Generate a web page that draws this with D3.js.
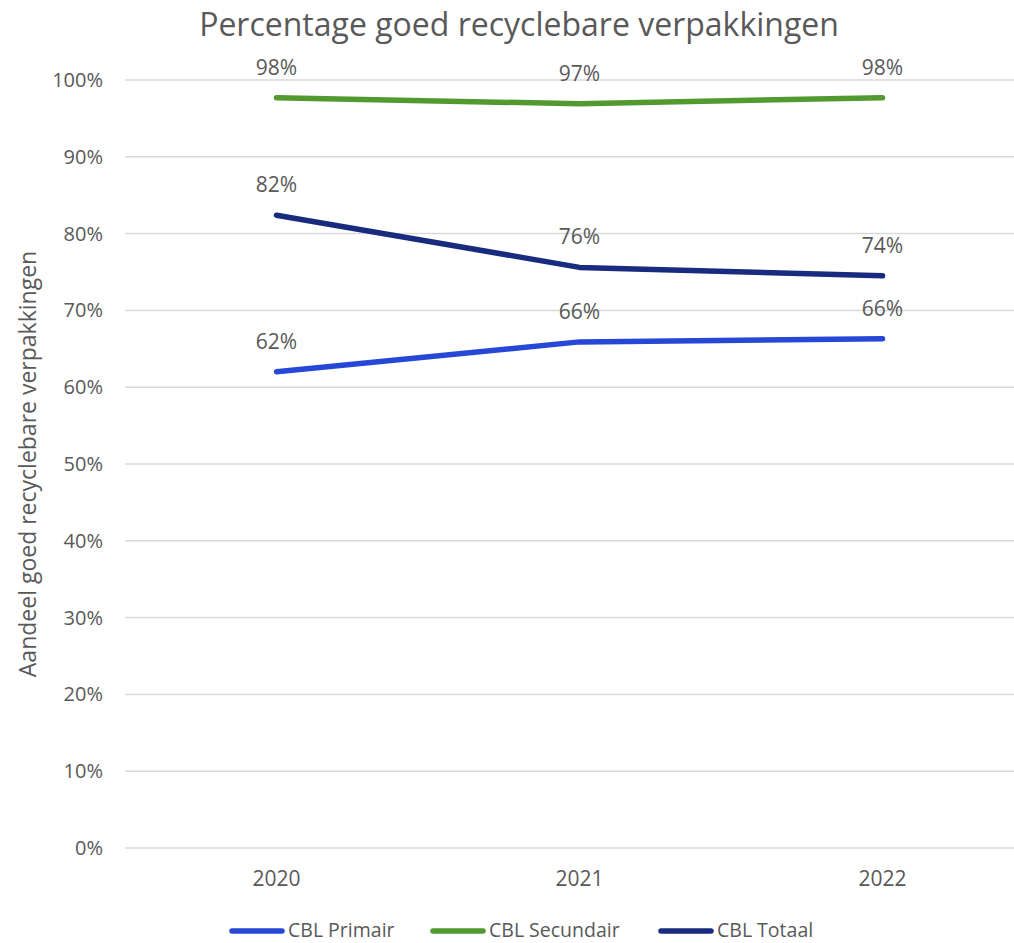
<!DOCTYPE html>
<html><head><meta charset="utf-8">
<script src="https://cdn.jsdelivr.net/npm/d3@7"></script>
<style>body{margin:0;background:#fff;} text{font-family:"Open Sans",sans-serif;fill:#595959;}</style>
</head><body><svg id="c" width="1014" height="943"></svg>
<script>
const categories = ["2020","2021","2022"];
const primair = [0.620, 0.659, 0.663];
const secundair = [0.977, 0.969, 0.977];
const totaal = [0.824, 0.756, 0.745];
const labelsPrimair = ["62%","66%","66%"];
const labelsSecundair = ["98%","97%","98%"];
const labelsTotaal = ["82%","76%","74%"];
const yTicks = [0,0.1,0.2,0.3,0.4,0.5,0.6,0.7,0.8,0.9,1.0];
const seriesNames = ["CBL Primair","CBL Secundair","CBL Totaal"];
const colors = ["#2747d6","#529a30","#182b7e"];

const svg = d3.select("#c");
const x = d3.scalePoint().domain(categories).range([125,1034]).padding(0.5);
const y = d3.scaleLinear().domain([0,1]).range([848,80]);

// grid
svg.append("g").selectAll("line").data(yTicks).join("line")
  .attr("x1",125).attr("x2",1014).attr("y1",d=>y(d)).attr("y2",d=>y(d))
  .attr("stroke","#d9d9d9").attr("stroke-width",1.5);
// y labels
svg.append("g").selectAll("text").data(yTicks).join("text")
  .attr("x",103).attr("y",d=>y(d)+7).attr("text-anchor","end")
  .attr("font-size",20).text(d=>d3.format(".0%")(d));
// x labels
svg.append("g").selectAll("text").data(categories).join("text")
  .attr("x",d=>x(d)).attr("y",886).attr("text-anchor","middle")
  .attr("font-size",21).text(d=>d);

const series = [
  {name:seriesNames[0], vals:primair, labels:labelsPrimair, color:colors[0]},
  {name:seriesNames[1], vals:secundair, labels:labelsSecundair, color:colors[1]},
  {name:seriesNames[2], vals:totaal, labels:labelsTotaal, color:colors[2]}
];
const line = d3.line().x((d,i)=>x(categories[i])).y(d=>y(d));
series.forEach(s=>{
  svg.append("path").datum(s.vals).attr("d",line).attr("fill","none")
    .attr("stroke",s.color).attr("stroke-width",5.5).attr("stroke-linecap","round").attr("stroke-linejoin","round");
  svg.append("g").selectAll("text").data(s.vals).join("text")
    .attr("x",(d,i)=>x(categories[i])).attr("y",d=>y(d)-23)
    .attr("text-anchor","middle").attr("font-size",21).text((d,i)=>s.labels[i]);
});

// title
svg.append("text").attr("x",519).attr("y",36).attr("text-anchor","middle")
  .attr("font-size",32).text("Percentage goed recyclebare verpakkingen");
// y axis title
svg.append("text").attr("transform","translate(36,464) rotate(-90)")
  .attr("text-anchor","middle").attr("font-size",23).text("Aandeel goed recyclebare verpakkingen");

// legend
const legX = [229,430,658];
const lg = svg.append("g");
series.forEach((s,i)=>{
  lg.append("line").attr("x1",legX[i]+3).attr("x2",legX[i]+53).attr("y1",931).attr("y2",931)
    .attr("stroke",s.color).attr("stroke-width",5.5).attr("stroke-linecap","round");
  lg.append("text").attr("x",legX[i]+59).attr("y",937).attr("font-size",19.5).text(s.name);
});
</script></body></html>
